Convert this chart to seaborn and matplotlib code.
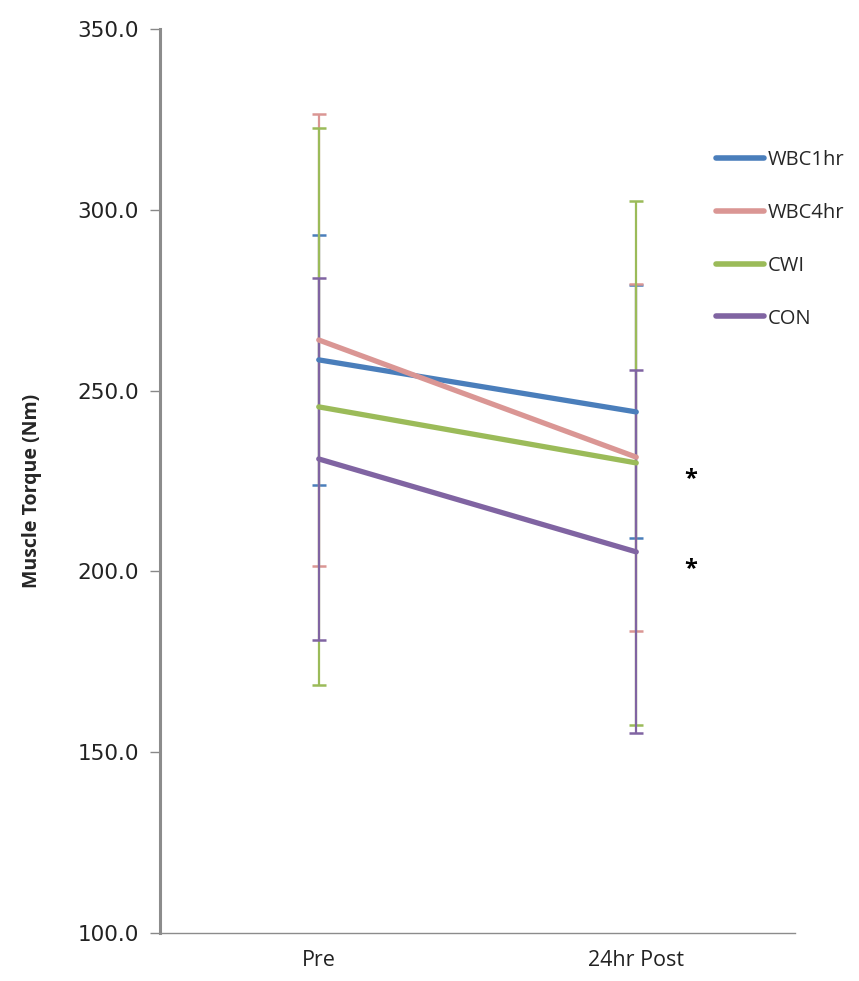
import matplotlib
matplotlib.use("Agg")
import matplotlib.pyplot as plt
import seaborn as sns
import pandas as pd
import numpy as np

# ---- data ----
timepoints = ["Pre", "24hr Post"]
groups = ["WBC1hr", "WBC4hr", "CWI", "CON"]
wbc1hr_mean = [258.5, 244.1]
wbc4hr_mean = [264.0, 231.6]
cwi_mean = [245.5, 230.0]
con_mean = [231.1, 205.4]
wbc1hr_sd = [34.5, 35.0]
wbc4hr_sd = [62.5, 48.0]
cwi_sd = [77.0, 72.5]
con_sd = [50.0, 50.2]
sig_labels = ["*", "*"]
sig_values = [225.6, 200.6]
y_ticks = [100, 150, 200, 250, 300, 350]

colors = {"WBC1hr": "#4A7EBB", "WBC4hr": "#DA9694", "CWI": "#9BBB59", "CON": "#8064A2"}

means = {"WBC1hr": wbc1hr_mean, "WBC4hr": wbc4hr_mean, "CWI": cwi_mean, "CON": con_mean}
sds = {"WBC1hr": wbc1hr_sd, "WBC4hr": wbc4hr_sd, "CWI": cwi_sd, "CON": con_sd}

rows = []
for g in groups:
    for i, t in enumerate(timepoints):
        rows.append({"group": g, "time": t, "x": i, "value": means[g][i], "sd": sds[g][i]})
df = pd.DataFrame(rows)

sns.set_style("white")
plt.rcParams["font.family"] = ["Open Sans", "DejaVu Sans"]

fig = plt.figure(figsize=(8.59, 9.81), dpi=100)
ax = fig.add_axes([160 / 859, 1 - 933 / 981, 635 / 859, (933 - 29) / 981])

# error bars (drawn first, thin)
for g in groups:
    sub = df[df.group == g]
    ax.errorbar(sub["x"], sub["value"], yerr=sub["sd"], fmt="none",
                ecolor=colors[g], elinewidth=1.6, capsize=5, capthick=1.8, zorder=2)

sns.lineplot(data=df, x="x", y="value", hue="group", hue_order=groups,
             palette=colors, linewidth=3.8, ax=ax, zorder=3, legend=True)

# significance markers
for lab, v in zip(sig_labels, sig_values):
    ax.text(1.17, v, lab, ha="center", va="center", fontsize=17, fontweight="bold", color="black")

ax.set_xlim(-0.5, 1.5)
ax.set_ylim(100, 350)
ax.set_yticks(y_ticks)
ax.set_yticklabels([f"{v:.1f}" for v in y_ticks], fontsize=15.5, color="#222222",
                   family="DejaVu Sans")
ax.set_xticks(range(len(timepoints)))
ax.set_xticklabels(timepoints, fontsize=15.5, color="#222222")
ax.set_xticks([-0.5, 0.5, 1.5], minor=True)
ax.tick_params(axis="x", which="major", length=0, pad=12)
ax.tick_params(axis="x", which="minor", length=7, width=1, color="#888888", direction="out")
ax.tick_params(axis="y", which="major", length=7, width=1, color="#888888", direction="out", left=True, pad=8)
ax.set_xlabel("")
ax.set_ylabel("Muscle Torque (Nm)", fontsize=14, fontweight="bold")
ax.yaxis.set_label_coords(-118 / 635, (933 - 491) / (933 - 29))

for s in ["top", "right"]:
    ax.spines[s].set_visible(False)
ax.spines["left"].set_color("#8c8c8c")
ax.spines["left"].set_linewidth(2.2)
ax.spines["bottom"].set_color("#8c8c8c")
ax.spines["bottom"].set_linewidth(1.0)

leg = ax.legend(loc="upper left", bbox_to_anchor=(708 / 859, 1 - 142 / 981),
                bbox_transform=fig.transFigure, frameon=False, fontsize=14.5,
                labelspacing=1.63, handlelength=2.4, handletextpad=0.15,
                borderaxespad=0)
for line in leg.get_lines():
    line.set_linewidth(4)

fig.savefig("out.png", dpi=100)
